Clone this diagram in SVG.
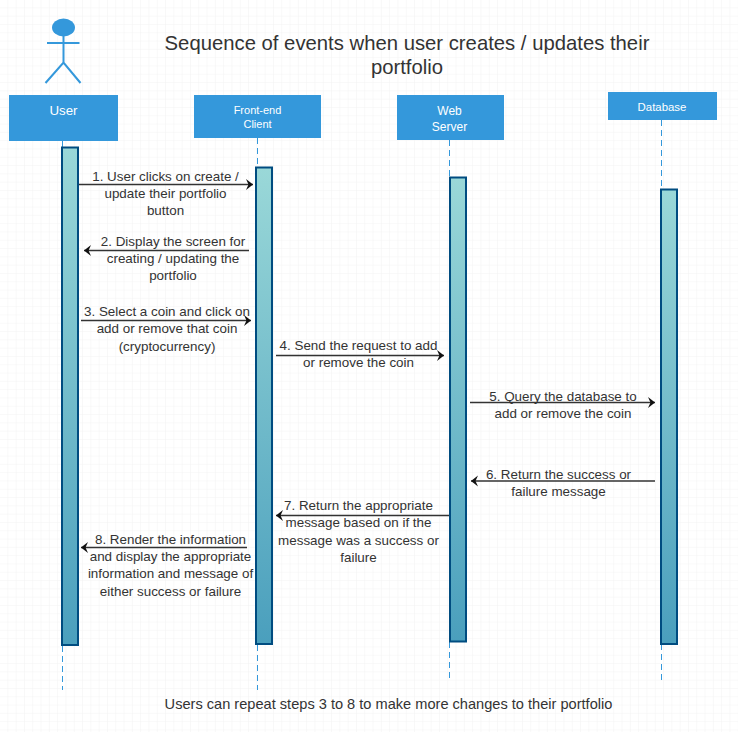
<svg xmlns="http://www.w3.org/2000/svg" width="738" height="732" viewBox="0 0 738 732">
<style>
text{font-family:"Liberation Sans",Arial,sans-serif;fill:#333;text-anchor:middle}
.m{font-size:13.4px}
.h{fill:#3498db}
.ht{fill:#fff;font-size:11px}
.life{stroke:#3498db;stroke-width:1;stroke-dasharray:6 4;fill:none}
.bar{fill:url(#g);stroke:#004c80;stroke-width:2}
.a{stroke:#333;stroke-width:1.5;fill:none;marker-end:url(#ah)}
.act{stroke:#3498db;stroke-width:2;fill:none}
</style>
<defs>
<pattern id="grid" width="8.3" height="8.3" patternUnits="userSpaceOnUse"><path d="M8.3 0V8.3H0" fill="none" stroke="#f3f3f3" stroke-width="1"/></pattern>
<linearGradient id="g" x1="0" y1="0" x2="0" y2="1"><stop offset="0" stop-color="#9ad8d8"/><stop offset="1" stop-color="#4a9fbd"/></linearGradient>
<marker id="ah" markerWidth="10" markerHeight="12" refX="7" refY="5.500" orient="auto" markerUnits="userSpaceOnUse"><path d="M0 0L7 5.500L0 11L2.500 5.500Z" fill="#111"/></marker>
</defs>
<rect width="738" height="732" fill="#fff"/>
<rect width="738" height="732" fill="url(#grid)"/>
<g id="title"><text x="407" y="49.500" font-size="20.300">Sequence of events when user creates / updates their</text><text x="407" y="74" font-size="20.300">portfolio</text></g>
<g id="connectors">
<path class="life" d="M62.500 141V147M62.500 646V690"/>
<path class="life" d="M257.500 138V167M257.500 645V690"/>
<path class="life" d="M449.500 140V177M449.500 642V682"/>
<path class="life" d="M661.500 120V189M661.500 644V682"/>
<path class="a" d="M79 184.500H253"/>
<path class="a" d="M249 250.500H84"/>
<path class="a" d="M81 320.500H251"/>
<path class="a" d="M276 355.500H444"/>
<path class="a" d="M470 402.500H655"/>
<path class="a" d="M655 481H471"/>
<path class="a" d="M449 515.500H276"/>
<path class="a" d="M247 547.500H81"/>
</g>
<g id="user"><ellipse class="h" cx="63.500" cy="27.500" rx="11.500" ry="9"/><path class="act" d="M63.500 36V62.500M47 43H79.500M45.500 83L63.500 62.500L80.500 83"/><rect class="h" x="9" y="95" width="109" height="46"/><text class="ht" x="63.500" y="115" style="font-size:13.300px">User</text></g>
<g id="client"><rect class="h" x="194" y="95" width="127" height="43"/><text class="ht" x="257.500" y="114">Front-end</text><text class="ht" x="257.500" y="128">Client</text></g>
<g id="server"><rect class="h" x="397" y="95" width="107" height="45"/><text class="ht" x="449.500" y="115" style="font-size:12px">Web</text><text class="ht" x="449.500" y="131" style="font-size:12px">Server</text></g>
<g id="database"><rect class="h" x="608" y="92" width="109" height="28"/><text class="ht" x="662" y="111" style="font-size:11.400px">Database</text></g>
<g id="activations">
<rect class="bar" x="62" y="147.500" width="16" height="497.500"/>
<rect class="bar" x="256" y="167.500" width="16" height="476.500"/>
<rect class="bar" x="450" y="177.500" width="16" height="464"/>
<rect class="bar" x="661" y="189.500" width="16" height="454.500"/>
</g>
<g id="labels">
<g class="m">
<text x="165.500" y="180.500">1. User clicks on create /</text><text x="165.500" y="197.500">update their portfolio</text><text x="165.500" y="214.500">button</text>
<text x="173" y="245.500">2. Display the screen for</text><text x="173" y="262.500">creating / updating the</text><text x="173" y="279.500">portfolio</text>
<text x="167" y="315.500">3. Select a coin and click on</text><text x="167" y="332.500">add or remove that coin</text><text x="167" y="350.500">(cryptocurrency)</text>
<text x="358.500" y="349.500">4. Send the request to add</text><text x="358.500" y="366.500">or remove the coin</text>
<text x="563" y="400.500">5. Query the database to</text><text x="563" y="417.500">add or remove the coin</text>
<text x="558.500" y="478.500">6. Return the success or</text><text x="558.500" y="495.500">failure message</text>
<text x="358.500" y="509.500">7. Return the appropriate</text><text x="358.500" y="526.500">message based on if the</text><text x="358.500" y="544.500">message was a success or</text><text x="358.500" y="561.500">failure</text>
<text x="170.500" y="543.500">8. Render the information</text><text x="170.500" y="560.500">and display the appropriate</text><text x="170.500" y="577.500">information and message of</text><text x="170.500" y="595.500">either success or failure</text>
</g>
<text x="388.500" y="708.500" font-size="14.600">Users can repeat steps 3 to 8 to make more changes to their portfolio</text>
</g>
</svg>
